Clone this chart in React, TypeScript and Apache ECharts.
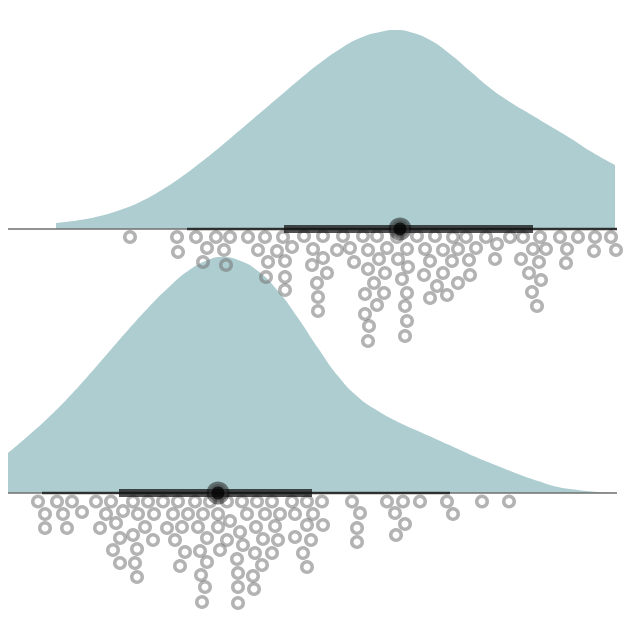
import React, { useEffect, useRef } from 'react';
import * as echarts from 'echarts';

// density outline, [value, height]
const topDensity: number[][] = [
  [4.8, 0.6], [7.2, 0.9], [9.2, 1.3], [11.2, 1.9], [13.2, 2.7], [15.2, 3.8],
  [17.2, 5.1], [19.2, 6.6], [21.2, 8.2], [23.2, 9.9], [25.2, 11.6], [27.2, 13.3],
  [29.2, 15.0], [31.2, 16.6], [33.2, 18.0], [35.2, 19.1], [37.2, 19.7], [38.7, 19.9],
  [40.2, 19.7], [42.2, 18.9], [44.2, 17.5], [46.2, 15.8], [48.2, 14.1], [50.2, 12.7],
  [52.2, 11.5], [54.2, 10.3], [56.2, 9.1], [58.2, 7.8], [60.7, 6.4],
];

const bottomDensity: number[][] = [
  [0, 4.0], [2, 5.7], [4, 7.5], [6, 9.5], [8, 11.7], [10, 14.0], [12, 16.3],
  [14, 18.5], [16, 20.5], [18, 22.2], [20, 23.3], [21.4, 23.6], [23, 23.3],
  [25, 22.2], [27, 20.2], [29, 17.5], [31, 14.5], [33, 11.7], [35, 9.6], [37, 8.2],
  [39, 7.1], [41, 6.2], [43, 5.3], [45, 4.4], [47, 3.5], [49, 2.7], [51, 1.9],
  [53, 1.2], [55, 0.6], [57, 0.3], [59, 0.1], [60.7, 0],
];

// dot plot, [value, stack offset]
const topDots: number[][] = [
  [12.2, -0.8], [16.9, -0.8], [17.0, -2.3], [18.8, -0.8], [19.9, -1.9], [19.5, -3.3],
  [20.8, -0.8], [21.6, -2.1], [22.2, -0.8], [21.8, -3.6], [24.0, -0.8], [25.0, -2.1],
  [25.7, -0.8], [26.9, -2.2], [26.0, -3.3], [25.8, -4.8], [27.5, -0.8], [27.7, -3.2],
  [27.7, -4.8], [27.7, -6.1], [28.4, -1.8], [29.6, -0.7], [30.5, -2.0], [31.5, -0.7],
  [31.5, -2.9], [30.4, -3.6], [31.9, -4.4], [30.9, -5.4], [31.0, -6.8], [31.0, -8.2],
  [32.9, -2.1], [33.5, -0.7], [34.2, -1.9], [34.6, -3.3], [35.5, -0.7], [36.0, -2.1],
  [36.9, -0.7], [37.1, -3.0], [36.0, -4.0], [37.7, -4.4], [36.6, -5.4], [35.7, -6.5],
  [37.6, -6.4], [36.9, -7.6], [35.7, -8.5], [36.1, -9.7], [36.0, -11.2], [38.9, -0.8],
  [39.0, -3.0], [37.9, -1.9], [39.9, -2.0], [39.4, -5.0], [40.0, -3.8], [39.9, -6.4],
  [39.7, -7.7], [39.9, -9.2], [39.7, -10.7], [40.9, -0.7], [41.7, -2.0], [42.2, -3.2],
  [41.6, -4.6], [42.7, -0.7], [43.5, -2.1], [44.4, -3.2], [43.5, -4.4], [42.9, -5.7],
  [42.2, -6.9], [43.9, -6.6], [44.5, -0.8], [45.0, -2.0], [45.8, -0.8], [46.1, -3.1],
  [46.2, -4.6], [45.0, -5.4], [46.8, -1.9], [47.8, -0.8], [48.7, -3.0], [48.9, -1.5],
  [50.2, -0.8], [51.5, -0.8], [52.5, -2.0], [51.3, -3.0], [53.2, -0.8], [53.8, -2.0],
  [53.1, -3.3], [52.1, -4.4], [53.3, -5.1], [52.4, -6.3], [52.9, -7.7], [55.2, -0.8],
  [55.9, -2.0], [55.8, -3.4], [57.0, -0.8], [58.7, -0.8], [58.6, -2.2], [60.3, -0.8],
  [60.8, -2.1],
];

const bottomDots: number[][] = [
  [3.0, -0.85], [4.9, -0.85], [6.4, -0.85], [8.8, -0.85], [10.3, -0.85], [12.5, -0.85],
  [14.0, -0.85], [15.5, -0.85], [17.0, -0.85], [18.7, -0.85], [20.2, -0.85], [21.9, -0.85],
  [23.4, -0.85], [24.9, -0.85], [26.4, -0.85], [28.4, -0.85], [29.9, -0.85], [31.4, -0.85],
  [34.4, -0.85], [37.9, -0.85], [39.5, -0.85], [41.2, -0.85], [43.9, -0.85], [47.4, -0.85],
  [50.1, -0.85],
  [3.7, -2.1], [5.5, -2.1], [7.4, -1.9], [3.7, -3.5], [5.9, -3.5], [9.8, -2.1],
  [11.5, -1.8], [9.2, -3.5], [10.8, -3.0], [13.0, -2.1], [14.6, -2.1], [13.7, -3.4],
  [11.2, -4.5], [12.5, -4.2], [14.5, -4.7], [10.5, -5.7], [12.9, -5.6], [11.2, -7.0],
  [12.7, -7.0], [12.9, -8.4], [16.5, -2.1], [15.9, -3.5], [16.7, -4.7], [18.0, -2.1],
  [19.5, -2.1], [21.0, -2.1], [17.4, -3.4], [19.0, -3.4], [21.0, -3.4], [22.2, -2.8],
  [19.9, -4.5], [21.9, -4.7], [23.2, -3.9], [17.7, -5.9], [19.2, -5.8], [21.2, -5.7],
  [17.2, -7.3], [19.9, -6.9], [19.3, -8.2], [19.7, -9.4], [19.4, -10.9], [23.9, -2.1],
  [25.7, -2.1], [27.2, -2.1], [28.7, -2.1], [30.5, -2.1], [24.8, -3.4], [26.7, -3.3],
  [23.5, -5.2], [25.5, -4.6], [27.0, -4.7], [24.7, -6.0], [26.4, -6.0], [22.9, -6.6],
  [25.4, -7.2], [23.0, -8.0], [24.5, -8.3], [23.0, -9.4], [24.6, -9.6], [23.0, -11.0],
  [29.9, -3.2], [31.5, -3.2], [28.7, -4.4], [30.3, -4.7], [29.5, -6.0], [29.9, -7.4],
  [35.2, -2.0], [34.9, -3.5], [34.9, -4.9], [38.7, -2.0], [39.7, -3.1], [38.8, -4.2],
  [44.5, -2.1],
];

// point + interval summaries
const topThin = [17.9, 61.5];
const topThick = [27.6, 52.5];
const topMedian = 39.2;
const bottomThin = [3.4, 44.2];
const bottomThick = [11.1, 30.4];
const bottomMedian = 21.0;
const baseline = [0, 61.5];

const FILL = '#aecdd0';
const DOT = 'rgba(115, 115, 115, 0.68)';

const groupSeries = (
  idx: number,
  density: number[][],
  dots: number[][],
  thin: number[],
  thick: number[],
  median: number
): any[] => [
  {
    type: 'line',
    xAxisIndex: idx,
    yAxisIndex: idx,
    data: density,
    smooth: 0.5,
    symbol: 'none',
    lineStyle: { width: 0 },
    areaStyle: { color: FILL, opacity: 1 },
    z: 1,
  },
  {
    type: 'line',
    xAxisIndex: idx,
    yAxisIndex: idx,
    data: baseline.map((x) => [x, 0]),
    symbol: 'none',
    lineStyle: { color: '#6f6f6f', width: 1.5 },
    z: 2,
  },
  {
    type: 'scatter',
    xAxisIndex: idx,
    yAxisIndex: idx,
    data: dots,
    symbol: 'circle',
    symbolSize: 10.5,
    clip: false,
    itemStyle: { color: 'rgba(0,0,0,0)', borderColor: DOT, borderWidth: 3.5 },
    z: 3,
  },
  {
    type: 'line',
    xAxisIndex: idx,
    yAxisIndex: idx,
    data: thin.map((x) => [x, 0]),
    symbol: 'none',
    lineStyle: { color: 'rgba(25, 25, 25, 0.8)', width: 2.5, cap: 'butt' },
    z: 4,
  },
  {
    type: 'line',
    xAxisIndex: idx,
    yAxisIndex: idx,
    data: thick.map((x) => [x, 0]),
    symbol: 'none',
    lineStyle: { color: 'rgba(20, 20, 20, 0.75)', width: 8, cap: 'butt' },
    z: 5,
  },
  {
    type: 'scatter',
    xAxisIndex: idx,
    yAxisIndex: idx,
    data: [[median, 0]],
    symbol: 'circle',
    symbolSize: 23,
    itemStyle: { color: 'rgba(10, 10, 10, 0.6)' },
    z: 6,
  },
  {
    type: 'scatter',
    xAxisIndex: idx,
    yAxisIndex: idx,
    data: [[median, 0]],
    symbol: 'circle',
    symbolSize: 18,
    itemStyle: { color: 'rgba(60, 60, 60, 0.5)' },
    z: 7,
  },
  {
    type: 'scatter',
    xAxisIndex: idx,
    yAxisIndex: idx,
    data: [[median, 0]],
    symbol: 'circle',
    symbolSize: 13,
    itemStyle: { color: 'rgba(0, 0, 0, 0.92)' },
    z: 8,
  },
];

const App: React.FC = () => {
  const chartRef = useRef<HTMLDivElement>(null);

  useEffect(() => {
    if (!chartRef.current) return;
    document.body.style.margin = '0';

    const chart = echarts.init(chartRef.current, undefined, { renderer: 'svg' });

    const hiddenX = { type: 'value' as const, min: 0, max: 60.7, show: false };

    chart.setOption({
      animation: false,
      silent: true,
      grid: [
        { left: 8, width: 607, top: 9, height: 360 },
        { left: 8, width: 607, top: 233, height: 380 },
      ],
      xAxis: [
        { ...hiddenX, gridIndex: 0 },
        { ...hiddenX, gridIndex: 1 },
      ],
      yAxis: [
        { type: 'value', gridIndex: 0, min: -14, max: 22, show: false },
        { type: 'value', gridIndex: 1, min: -12, max: 26, show: false },
      ],
      series: [
        ...groupSeries(0, topDensity, topDots, topThin, topThick, topMedian),
        ...groupSeries(1, bottomDensity, bottomDots, bottomThin, bottomThick, bottomMedian),
      ],
    });

    return () => {
      chart.dispose();
    };
  }, []);

  return <div ref={chartRef} style={{ width: 623, height: 623 }} />;
};

export default App;
